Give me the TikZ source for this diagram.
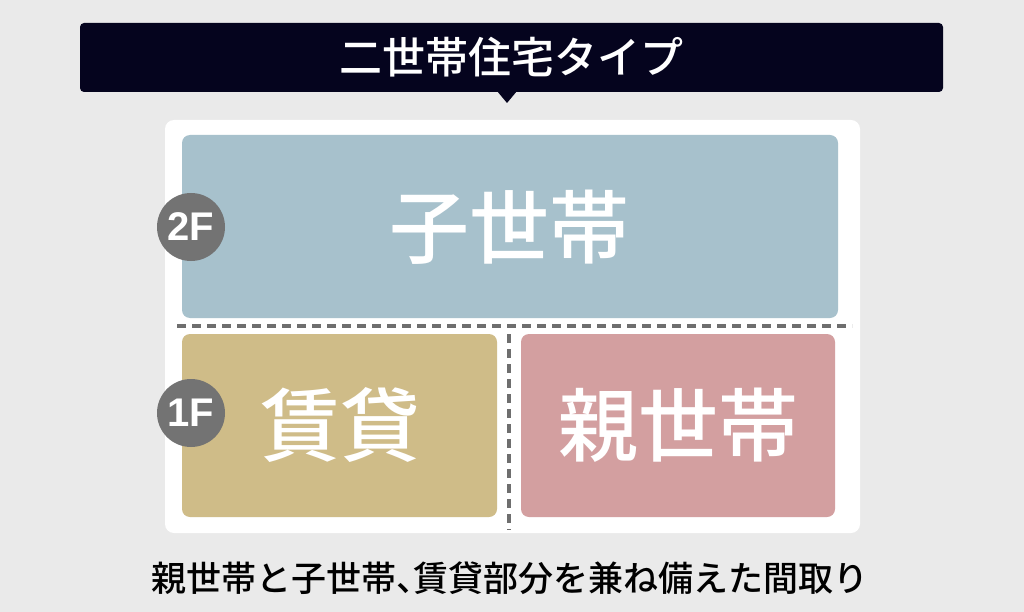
\documentclass[tikz,border=0pt]{standalone}
\usepackage{fontspec}
\newfontfamily\jp{Noto Sans CJK JP Medium}[RawFeature=+halt]
\newfontfamily\lsans{Liberation Sans}
\definecolor{bgGray}{HTML}{EAEAEA}
\definecolor{navy}{HTML}{05041E}
\definecolor{childBlue}{HTML}{A7C1CC}
\definecolor{rentGold}{HTML}{CFBC88}
\definecolor{parentRose}{HTML}{D39FA0}
\definecolor{floorGray}{HTML}{737373}
\definecolor{dashGray}{HTML}{6E6E6E}
\begin{document}
\begin{tikzpicture}[x=1pt,y=-1pt,
    room/.style={rounded corners=8pt, inner sep=0pt},
    roomlabel/.style={text=white, font=\jp\fontsize{80}{80}\selectfont},
    floortag/.style={circle, fill=floorGray, minimum size=68pt, inner sep=0pt,
      text=white, font=\lsans\bfseries\fontsize{40}{40}\selectfont},
    divider/.style={dashGray, line width=3.5pt, dash pattern=on 9pt off 6pt}]
        % Background
        \useasboundingbox[fill=bgGray] (0,0) rectangle (1024,612);

        % Title and pointer
        \node[fill=navy, rounded corners=4pt, minimum width=863pt, minimum height=69pt,
          text=white, font=\jp\fontsize{43}{43}\selectfont] (title) at (511.5,57.5) {二世帯住宅タイプ};
        \fill[navy] (497,91) -- (517,91) -- (507,103) -- cycle;

        % Panel and rooms
        \fill[white, rounded corners=9pt] (165,120) rectangle (860,533);
        \fill[room, childBlue] (182,135) rectangle (838,318);
        \fill[room, rentGold] (182,334) rectangle (497,517);
        \fill[room, parentRose] (521,334) rectangle (835,517);
        \node[roomlabel] (child) at (509,227) {子世帯};
        \node[roomlabel] (rent) at (340,425) {賃貸};
        \node[roomlabel] (parent) at (678,425) {親世帯};

        % Dashed dividers
        \draw[divider] (177,326) -- (852,326);
        \draw[divider] (509,334) -- (509,530);

        % Floor tags
        \node[floortag] (f2) at (191,227) {2F};
        \node[floortag] (f1) at (191,413) {1F};

        % Caption
        \node[font=\jp\fontsize{35}{35}\selectfont] (caption) at (510,578) {親世帯と子世帯、賃貸部分を兼ね備えた間取り};
      \end{tikzpicture}
\end{document}
